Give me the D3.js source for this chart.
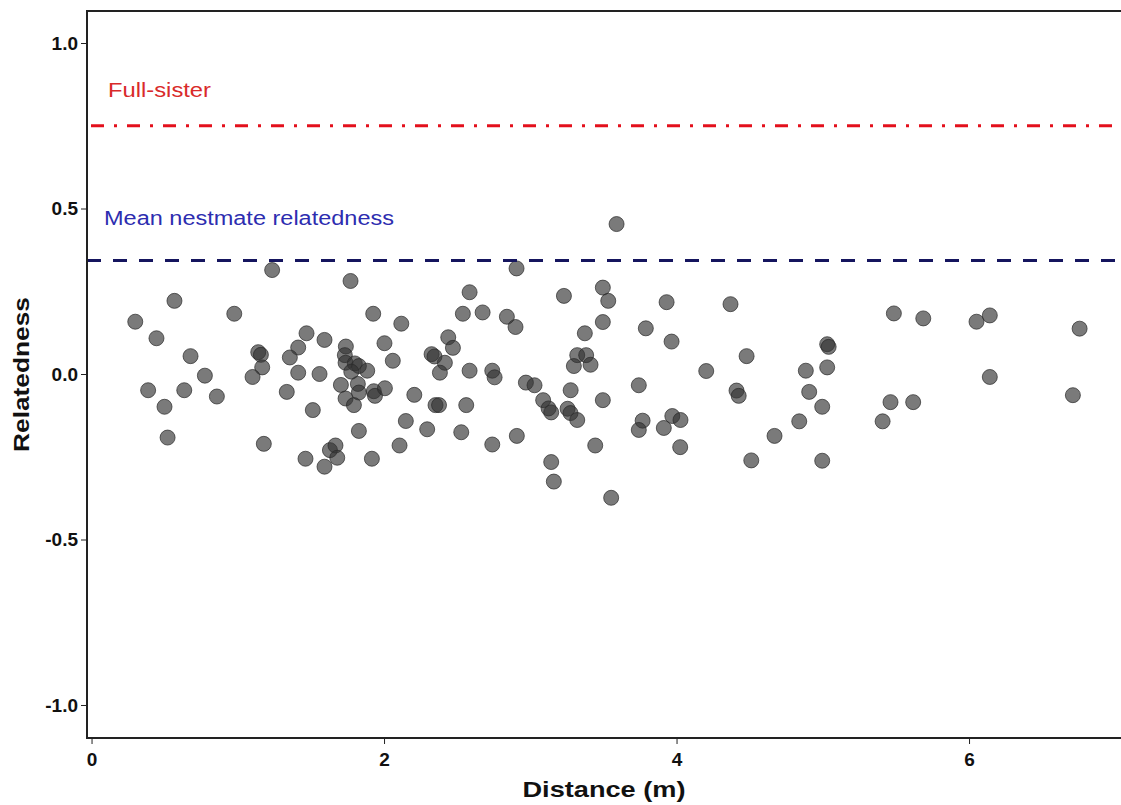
<!DOCTYPE html>
<html>
<head>
<meta charset="utf-8">
<script src="https://cdn.jsdelivr.net/npm/d3@7"></script>
<style>
  body { margin: 0; background: #fff; }
  text { font-family: "Liberation Sans", Arial, sans-serif; }
  .tick text { font-weight: bold; font-size: 19px; fill: #111; }
  .tick line { stroke: #222; }
</style>
</head>
<body>
<div id="chart"></div>
<script>
// distance between nests (m) and pairwise relatedness
var distance = [
    1.235, 1.771, 0.567, 0.976, 0.299, 1.926, 2.118, 0.444, 1.470, 1.593,
    2.003, 1.413, 1.739, 0.677, 1.140, 1.158, 1.356, 1.732, 2.060, 1.737,
    1.800, 1.828, 1.776, 1.885, 1.167, 0.775, 1.101, 1.413, 1.559, 0.387,
    0.634, 0.857, 0.499, 1.335, 1.705, 1.821, 1.828, 1.737, 1.930, 1.938,
    2.006, 2.207, 1.794, 1.513, 1.828, 2.149, 2.295, 0.520, 1.178, 2.106,
    1.630, 1.668, 1.680, 1.463, 1.917, 1.593,
    3.590, 2.906, 2.585, 3.230, 3.496, 3.533, 3.932, 4.369, 2.539, 2.674,
    2.840, 2.899, 3.496, 3.373, 3.790, 3.966, 2.439, 2.471, 2.325, 2.345,
    2.416, 2.382, 2.585, 2.740, 2.756, 3.321, 3.382, 3.298, 3.412, 4.479,
    4.203, 2.970, 3.029, 3.276, 3.742, 2.352, 2.376, 2.562, 3.088, 3.125,
    3.143, 3.255, 3.275, 3.321, 3.496, 4.410, 4.425, 3.768, 3.742, 3.971,
    4.027, 3.913, 2.528, 2.740, 2.908, 3.444, 4.025, 3.143, 3.161, 3.553,
    4.511,
    5.486, 5.687, 6.051, 6.142, 6.756, 5.030, 5.040, 5.030, 4.884, 4.907,
    4.996, 4.839, 4.670, 4.996, 5.463, 5.618, 5.409, 6.142, 6.710
];
var relatedness = [
    0.314, 0.281, 0.221, 0.182, 0.158, 0.182, 0.152, 0.108, 0.123, 0.103,
    0.093, 0.080, 0.083, 0.054, 0.066, 0.058, 0.050, 0.057, 0.040, 0.034,
    0.032, 0.024, 0.007, 0.010, 0.020, -0.005, -0.009, 0.004, 0.000, -0.049,
    -0.049, -0.068, -0.099, -0.054, -0.033, -0.030, -0.056, -0.074, -0.052, -0.066,
    -0.043, -0.063, -0.094, -0.109, -0.172, -0.142, -0.167, -0.192, -0.211, -0.216,
    -0.230, -0.216, -0.253, -0.256, -0.256, -0.280,
    0.453, 0.319, 0.247, 0.236, 0.261, 0.221, 0.217, 0.211, 0.182, 0.186,
    0.173, 0.142, 0.157, 0.123, 0.138, 0.098, 0.111, 0.079, 0.060, 0.053,
    0.034, 0.004, 0.010, 0.010, -0.010, 0.057, 0.057, 0.024, 0.028, 0.054,
    0.009, -0.026, -0.034, -0.049, -0.034, -0.094, -0.094, -0.094, -0.079, -0.104,
    -0.116, -0.105, -0.118, -0.139, -0.079, -0.050, -0.066, -0.141, -0.169, -0.127,
    -0.139, -0.163, -0.176, -0.213, -0.187, -0.216, -0.221, -0.266, -0.325, -0.374,
    -0.261,
    0.183, 0.168, 0.158, 0.177, 0.137, 0.090, 0.082, 0.020, 0.010, -0.054,
    -0.099, -0.143, -0.187, -0.262, -0.085, -0.085, -0.143, -0.009, -0.064
];

var xTicks = [0, 2, 4, 6];
var yTicks = [-1.0, -0.5, 0.0, 0.5, 1.0];

// reference lines
var fullSister = 0.75;
var meanNestmate = 0.343;

var svgWidth = 1121;
var svgHeight = 805;

var margin = { top: 11, right: 0, bottom: 67, left: 87 };
var width = svgWidth - margin.left - margin.right;
var height = svgHeight - margin.top - margin.bottom;

var svg = d3.select("#chart")
    .append("svg")
    .attr("width", svgWidth)
    .attr("height", svgHeight);

var chartGroup = svg.append("g")
    .attr("transform", `translate(${margin.left}, ${margin.top})`);

var xScale = d3.scaleLinear()
    .domain([-0.031, 7.039])
    .range([0, width]);

var yScale = d3.scaleLinear()
    .domain([-1.0997, 1.0967])
    .range([height, 0]);

// points
chartGroup.selectAll(".pt")
    .data(distance)
    .enter()
    .append("circle")
    .attr("class", "pt")
    .attr("cx", d => xScale(d))
    .attr("cy", (d, i) => yScale(relatedness[i]))
    .attr("r", 7.5)
    .attr("fill", "#333")
    .attr("fill-opacity", 0.65)
    .attr("stroke", "#2a2a2a")
    .attr("stroke-opacity", 0.7)
    .attr("stroke-width", 1);

// full-sister line
chartGroup.append("line")
    .attr("x1", 0)
    .attr("x2", width)
    .attr("y1", yScale(fullSister))
    .attr("y2", yScale(fullSister))
    .attr("stroke", "#e3101c")
    .attr("stroke-width", 3)
    .attr("stroke-dasharray", "13,10,3,10")
    .attr("stroke-dashoffset", -4);

// mean nestmate line
chartGroup.append("line")
    .attr("x1", 0)
    .attr("x2", width)
    .attr("y1", yScale(meanNestmate))
    .attr("y2", yScale(meanNestmate))
    .attr("stroke", "#15155e")
    .attr("stroke-width", 3)
    .attr("stroke-dasharray", "14,12");

chartGroup.append("text")
    .attr("x", 21)
    .attr("y", yScale(fullSister) - 29)
    .attr("font-size", "20px")
    .attr("fill", "#d92a2a")
    .attr("textLength", 103)
    .attr("lengthAdjust", "spacingAndGlyphs")
    .text("Full-sister");

chartGroup.append("text")
    .attr("x", 17)
    .attr("y", yScale(meanNestmate) - 35)
    .attr("font-size", "20px")
    .attr("fill", "#2d2db0")
    .attr("textLength", 290)
    .attr("lengthAdjust", "spacingAndGlyphs")
    .text("Mean nestmate relatedness");

// axes
var bottomAxis = d3.axisBottom(xScale)
    .tickValues(xTicks)
    .tickSize(6)
    .tickFormat(d3.format("d"));

var leftAxis = d3.axisLeft(yScale)
    .tickValues(yTicks)
    .tickSize(6)
    .tickFormat(d => d.toFixed(1));

var xAxis = chartGroup.append("g")
    .attr("transform", `translate(0, ${height})`)
    .call(bottomAxis);
xAxis.select(".domain").remove();
xAxis.selectAll("text").attr("dy", "0.95em").attr("y", 10);

var yAxis = chartGroup.append("g")
    .call(leftAxis);
yAxis.select(".domain").remove();
yAxis.selectAll("text").attr("x", -9);

// frame: left, bottom, top
chartGroup.append("path")
    .attr("d", `M${width + 2},0 H0 V${height} H${width + 2}`)
    .attr("fill", "none")
    .attr("stroke", "#222")
    .attr("stroke-width", 2);

// axis titles
svg.append("text")
    .attr("x", margin.left + width / 2)
    .attr("y", 797)
    .attr("text-anchor", "middle")
    .attr("font-size", "22px")
    .attr("font-weight", "bold")
    .attr("fill", "#111")
    .attr("textLength", 163)
    .attr("lengthAdjust", "spacingAndGlyphs")
    .text("Distance (m)");

svg.append("text")
    .attr("transform", `translate(29, ${margin.top + height / 2}) rotate(-90)`)
    .attr("text-anchor", "middle")
    .attr("font-size", "22px")
    .attr("font-weight", "bold")
    .attr("fill", "#111")
    .attr("textLength", 155)
    .attr("lengthAdjust", "spacingAndGlyphs")
    .text("Relatedness");
</script>
</body>
</html>
